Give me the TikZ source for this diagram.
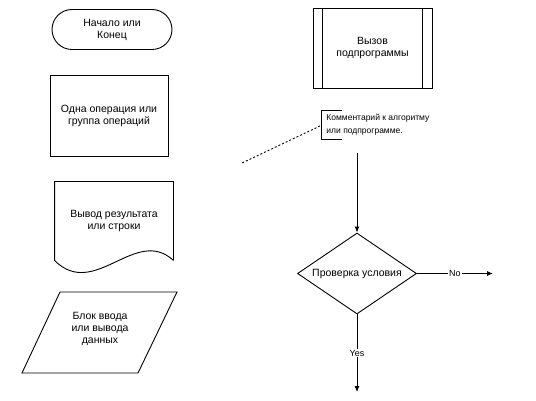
\documentclass[tikz,border=0pt]{standalone}
\usepackage{fontspec}
\setmainfont{Liberation Sans}
\usetikzlibrary{shapes.geometric,shapes.misc,arrows.meta}

\begin{document}
\begin{tikzpicture}[x=1pt,y=-1pt,line width=0.9pt]
    % Ось y направлена вниз, координаты берутся прямо в пикселях рисунка.
    \tikzset{
      blok/.style={draw,align=center,inner sep=0pt,
        font=\fontsize{10.5}{12}\selectfont},
      strelka/.style={-{Latex[length=6pt,width=5pt]}},
      metka/.style={fill=white,inner sep=1pt,font=\fontsize{9}{10}\selectfont}}
    \useasboundingbox (0,0) rectangle (536,401);
    % Левая колонка: начало, операция, вывод, ввод
    \node[blok,rounded rectangle,minimum width=120pt,minimum height=40pt]
      (nachalo) at (112,29.5) {Начало или\\Конец};
    \node[blok,rectangle,minimum width=118pt,minimum height=81pt]
      (operacija) at (109,115.5) {Одна операция или\\группа операций};
    \node[blok,draw=none,minimum width=118pt,minimum height=78pt]
      (vyvod) at (114,221) {Вывод результата\\или строки};
    \draw (vyvod.south east) -- (vyvod.north east) -- (vyvod.north west)
      -- (vyvod.south west) .. controls +(40,40) and +(-38,-35) .. (vyvod.south east);
    \node[blok,draw=none] (vvod) at (100,329) {Блок ввода\\или вывода\\данных};
    \draw (60,292) -- (177,292) -- (138,373) -- (22,373) -- cycle;
    % Правая колонка: подпрограмма и комментарий
    \node[blok,rectangle,minimum width=119pt,minimum height=80pt]
      (podprogramma) at (372.5,48) {Вызов\\подпрограммы};
    \draw ([xshift=10pt]podprogramma.north west) -- ([xshift=10pt]podprogramma.south west);
    \draw ([xshift=-10pt]podprogramma.north east) -- ([xshift=-10pt]podprogramma.south east);
    \node[anchor=west,align=left,inner sep=0pt,font=\fontsize{8.5}{13}\selectfont]
      (kommentarij) at (326,124.5) {Комментарий к алгоритму\\или подпрограмме.};
    \draw (342,110) -| (321,139) -- (342,139);
    \coordinate (skobka) at (320,126);
    \coordinate (konec) at (242,163);
    \draw[dash pattern=on 2pt off 2pt] (skobka) -- (konec);
    % Проверка условия и ветви
    \node[blok,diamond,minimum width=119pt,minimum height=81pt,shape aspect=1.47]
      (uslovie) at (357,273.5) {Проверка условия};
    \coordinate (vhod) at (357,153);
    \coordinate (net) at (493,273.5);
    \coordinate (da) at (357,392);
    \draw[strelka] (vhod) -- (uslovie.north);
    \draw[strelka] (uslovie.east) -- node[metka] {No} (net);
    \draw[strelka] (uslovie.south) -- node[metka] {Yes} (da);
  \end{tikzpicture}
\end{document}
